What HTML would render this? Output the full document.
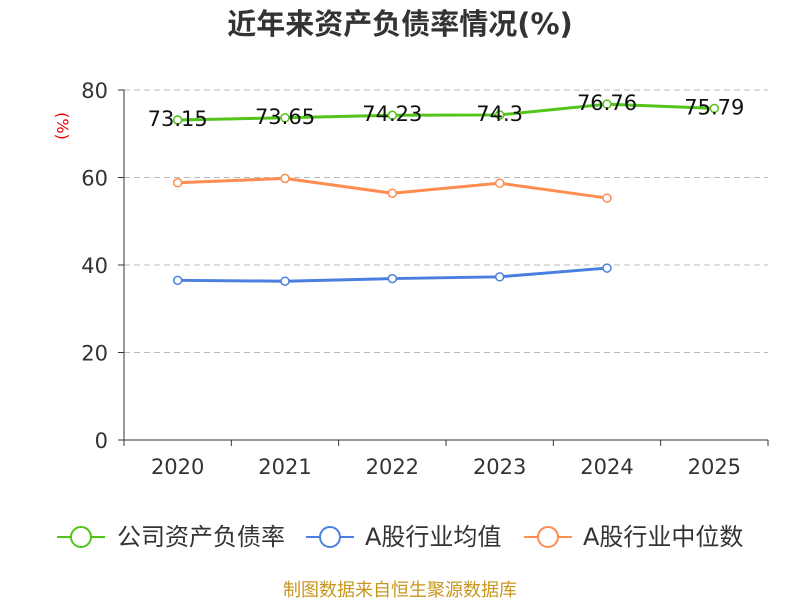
<!DOCTYPE html>
<html><head><meta charset="utf-8"><style>
body{margin:0;background:#fff;}
svg{display:block;font-family:"DejaVu Sans","Noto Sans CJK SC",sans-serif;}
</style></head><body>
<svg id="chart" width="800" height="600">
<text x="400" y="34" text-anchor="middle" font-size="29" font-weight="bold" fill="#333">近年来资产负债率情况(%)</text>
<text x="57" y="126" text-anchor="middle" font-size="16" fill="#e00" transform="rotate(90 57 126)">(%)</text>
<g id="grid"></g><g id="axes"></g><g id="series"></g>
<g>
<g><line x1="57" y1="537" x2="105" y2="537" stroke="#52c41a" stroke-width="2"/><circle cx="81" cy="537" r="10" fill="#fff" stroke="#52c41a" stroke-width="2"/><text x="117" y="545" font-size="24" fill="#333">公司资产负债率</text></g>
<g><line x1="306" y1="537" x2="354" y2="537" stroke="#4a7fe0" stroke-width="2"/><circle cx="330" cy="537" r="10" fill="#fff" stroke="#4a7fe0" stroke-width="2"/><text x="365" y="545" font-size="24" fill="#333">A股行业均值</text></g>
<g><line x1="524" y1="537" x2="572" y2="537" stroke="#ff8c50" stroke-width="2"/><circle cx="548" cy="537" r="10" fill="#fff" stroke="#ff8c50" stroke-width="2"/><text x="583" y="545" font-size="24" fill="#333">A股行业中位数</text></g>
</g>
<text x="400" y="596" text-anchor="middle" font-size="18" fill="#c8961e">制图数据来自恒生聚源数据库</text>
</svg>
<script>
const categories=["2020","2021","2022","2023","2024","2025"];
const companyValues=[73.15,73.65,74.23,74.3,76.76,75.79];
const companyLabels=["73.15","73.65","74.23","74.3","76.76","75.79"];
const averageValues=[36.5,36.3,36.9,37.3,39.3];
const medianValues=[58.8,59.8,56.4,58.7,55.3];
const yTicks=[0,20,40,60,80];
const NS="http://www.w3.org/2000/svg";
const x0=124,x1=768,yB=440,yT=90,yMax=80;
const bw=(x1-x0)/categories.length;
const xs=i=>x0+bw*(i+0.5);
const ys=v=>yB-(v/yMax)*(yB-yT);
function mk(tag,attrs,parent,txt){const e=document.createElementNS(NS,tag);for(const k in attrs)e.setAttribute(k,attrs[k]);if(txt!==undefined)e.textContent=txt;parent.appendChild(e);return e;}
const grid=document.getElementById('grid'),axes=document.getElementById('axes'),series=document.getElementById('series');
yTicks.forEach(t=>{const y=ys(t);
 if(t>0){const g=mk('line',{x1:x0,x2:x1,y1:y,y2:y,stroke:'#bbb','stroke-dasharray':'6,4'},grid);
 
 }
 mk('line',{x1:x0-6,x2:x0,y1:y,y2:y,stroke:'#333'},axes);
 const l=mk('text',{x:x0-16,y:y+8,'text-anchor':'end','font-size':21,fill:'#333'},axes,String(t));
 
 
});
mk('line',{x1:x0,x2:x0,y1:yT,y2:yB,stroke:'#333'},axes);
mk('line',{x1:x0,x2:x1,y1:yB,y2:yB,stroke:'#333'},axes);
for(let i=0;i<=categories.length;i++){mk('line',{x1:x0+bw*i,x2:x0+bw*i,y1:yB,y2:yB+6,stroke:'#333'},axes);}
categories.forEach((c,i)=>{const l=mk('text',{x:xs(i),y:474,'text-anchor':'middle','font-size':21,fill:'#333'},axes,c);
 
 });
function draw(vals,color,name){
 const p=mk('polyline',{points:vals.map((v,i)=>xs(i)+','+ys(v)).join(' '),fill:'none',stroke:color,'stroke-width':3},series);
 
 
 vals.forEach((v,i)=>{const c=mk('circle',{cx:xs(i),cy:ys(v),r:4,fill:'#fff',stroke:color,'stroke-width':1.5},series);
  
  });
}
draw(averageValues,'#4a7fe0','industry-average');
draw(medianValues,'#ff8c50','industry-median');
draw(companyValues,'#52c41a','company');
companyValues.forEach((v,i)=>{const t=mk('text',{x:xs(i),y:ys(v)+6,'text-anchor':'middle','font-size':21,fill:'#111'},series,companyLabels[i]);
 
 });
</script>
</body></html>
